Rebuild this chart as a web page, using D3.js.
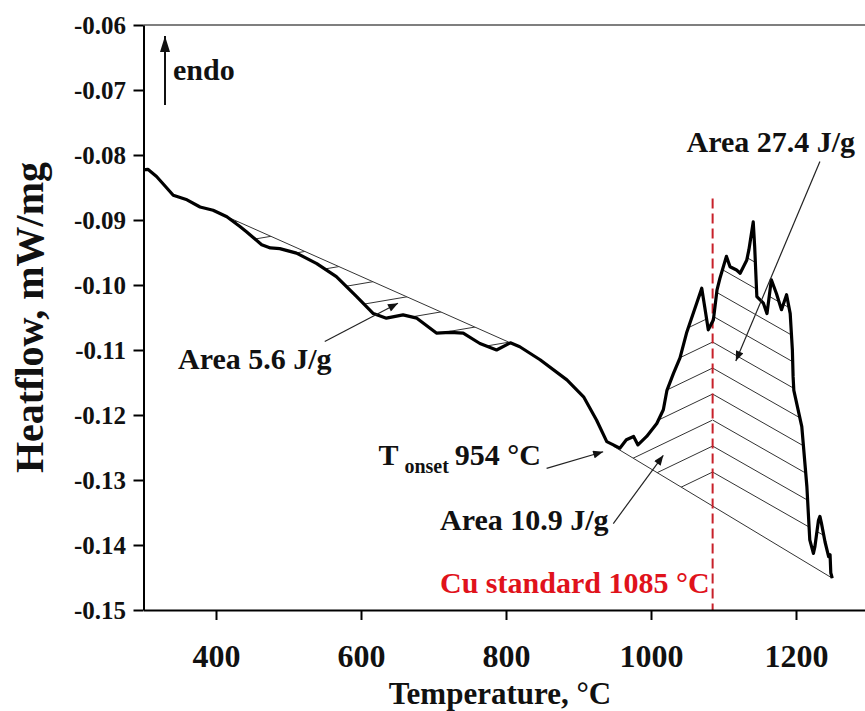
<!DOCTYPE html>
<html lang="en">
<head>
<meta charset="UTF-8">
<title>DSC Heatflow</title>
<style>
    body { margin: 0; padding: 0; background: #fff; }
    svg text { font-family: "Liberation Serif", "Times New Roman", serif; font-weight: bold; }
</style>
</head>
<body>
<svg id="chart" width="865" height="711"></svg>
<script src="https://cdnjs.cloudflare.com/ajax/libs/d3/7.9.0/d3.min.js"></script>
<script>
    // DSC trace
    const temperature = [300, 306, 318, 330, 341, 360, 378, 396, 415, 433, 442, 463, 475, 488, 511, 539, 566, 594, 617, 635,
        658, 677, 704, 723, 741, 764, 787, 806, 819, 833, 847, 884, 907, 925, 939, 948, 957, 966, 976, 982,
        994, 1008, 1017, 1022, 1031, 1040, 1049, 1063, 1070, 1074, 1079, 1086, 1091, 1095, 1104, 1109, 1118, 1123, 1132, 1135,
        1141, 1143, 1146, 1155, 1160, 1166, 1173, 1180, 1187, 1192, 1195, 1196, 1197, 1208, 1215, 1219, 1224, 1226, 1231, 1233,
        1235, 1240, 1245, 1247, 1248, 1250];
    const heatflow = [-0.0823, -0.0822, -0.0833, -0.0848, -0.0862, -0.0869, -0.0880, -0.0885, -0.0895, -0.0910, -0.0918, -0.0938, -0.0943, -0.0944, -0.0951, -0.0967, -0.0987, -0.1018, -0.1044, -0.1051,
        -0.1046, -0.1051, -0.1074, -0.1073, -0.1074, -0.1090, -0.1100, -0.1089, -0.1095, -0.1105, -0.1115, -0.1146, -0.1172, -0.1208, -0.1241, -0.1246, -0.1251, -0.1238, -0.1233, -0.1246,
        -0.1233, -0.1213, -0.1192, -0.1162, -0.1136, -0.1112, -0.1074, -0.1028, -0.1005, -0.1033, -0.1069, -0.1054, -0.1008, -0.0990, -0.0956, -0.0972, -0.0977, -0.0982, -0.0962, -0.0946,
        -0.0903, -0.0941, -0.1018, -0.1028, -0.1044, -0.0992, -0.1013, -0.1038, -0.1015, -0.1044, -0.1100, -0.1141, -0.1162, -0.1218, -0.1310, -0.1392, -0.1413, -0.1403, -0.1362, -0.1356,
        -0.1366, -0.1395, -0.1418, -0.1415, -0.1443, -0.1451];

    // integration baselines (temperature, heatflow at both ends)
    const baseline1T = [415, 806];
    const baseline1V = [-0.0895, -0.1089];
    const baseline2T = [948, 1250];
    const baseline2V = [-0.1248, -0.1451];
    const cuStandardT = 1085;
    const cuLineTopV = -0.0867;

    const xTicks = [400, 600, 800, 1000, 1200];
    const xMinorTicks = [300, 500, 700, 900, 1100, 1300];
    const yTicks = [-0.06, -0.07, -0.08, -0.09, -0.10, -0.11, -0.12, -0.13, -0.14, -0.15];
    const yMinorTicks = [-0.065, -0.075, -0.085, -0.095, -0.105, -0.115, -0.125, -0.135, -0.145];

    const labels = {
        area1: 'Area 5.6 J/g',
        area2: 'Area 10.9 J/g',
        area3: 'Area 27.4 J/g',
        onsetValue: '954 °C',
        cu: 'Cu standard 1085 °C',
        endo: 'endo',
        xTitle: 'Temperature, °C',
        yTitle: 'Heatflow, mW/mg'
    };

    const margin = { top: 25, left: 143.5 };
    const plotW = 725, plotH = 585;

    const svg = d3.select('#chart');

    const x = d3.scaleLinear().domain([300, 1300]).range([margin.left, margin.left + plotW]);
    const y = d3.scaleLinear().domain([-0.15, -0.06]).range([margin.top + plotH, margin.top]);

    const data = temperature.map((t, i) => [t, heatflow[i]]);
    const baseAt = (bT, bV, t) => bV[0] + (bV[1] - bV[0]) * (t - bT[0]) / (bT[1] - bT[0]);
    const curveAt = t => {
        for (let i = 1; i < data.length; i++) {
            if (data[i][0] >= t) {
                const a = data[i - 1], b = data[i];
                return a[1] + (b[1] - a[1]) * (t - a[0]) / (b[0] - a[0]);
            }
        }
        return data[data.length - 1][1];
    };

    const defs = svg.append('defs');
    defs.append('marker')
        .attr('id', 'head')
        .attr('viewBox', '0 0 10 8')
        .attr('refX', 10).attr('refY', 4)
        .attr('markerUnits', 'userSpaceOnUse')
        .attr('markerWidth', 11).attr('markerHeight', 8)
        .attr('orient', 'auto')
        .append('path').attr('d', 'M0,0 L10,4 L0,8 z').attr('fill', '#111');
    defs.append('marker')
        .attr('id', 'bighead')
        .attr('viewBox', '0 0 16 10')
        .attr('refX', 16).attr('refY', 5)
        .attr('markerUnits', 'userSpaceOnUse')
        .attr('markerWidth', 16).attr('markerHeight', 10)
        .attr('orient', 'auto')
        .append('path').attr('d', 'M0,0 L16,5 L0,10 z').attr('fill', '#111');

    function addClip(id, pts) {
        defs.append('clipPath').attr('id', id)
            .append('path')
            .attr('d', 'M' + pts.map(p => x(p[0]) + ',' + y(p[1])).join('L') + 'Z');
    }

    // clip regions for hatching
    const seg = (t0, t1) => data.filter(d => d[0] > t0 && d[0] < t1);
    addClip('clipA1', [[baseline1T[0], baseline1V[0]], ...seg(baseline1T[0], baseline1T[1]), [baseline1T[1], baseline1V[1]]]);
    const cuBase = baseAt(baseline2T, baseline2V, cuStandardT);
    addClip('clipA2', [[baseline2T[0], baseline2V[0]], ...seg(baseline2T[0], cuStandardT),
        [cuStandardT, curveAt(cuStandardT)], [cuStandardT, cuBase]]);
    addClip('clipA3', [[cuStandardT, cuBase], [cuStandardT, curveAt(cuStandardT)], ...seg(cuStandardT, baseline2T[1]),
        [baseline2T[1], baseline2V[1]]]);

    const hatch = svg.append('g').attr('stroke', '#333').attr('stroke-width', 1).attr('fill', 'none');

    // area 5.6 hatch: shallow lines crossing the baseline
    const b1x0 = x(baseline1T[0]), b1x1 = x(baseline1T[1]);
    const b1y0 = y(baseline1V[0]), b1y1 = y(baseline1V[1]);
    const g1 = hatch.append('g').attr('clip-path', 'url(#clipA1)');
    for (let cx = b1x0 + 10; cx < b1x1; cx += 34) {
        const cy = b1y0 + (b1y1 - b1y0) * (cx - b1x0) / (b1x1 - b1x0);
        g1.append('line')
            .attr('x1', cx - 150).attr('y1', cy + 0.17 * 150)
            .attr('x2', cx + 150).attr('y2', cy - 0.17 * 150);
    }

    // chevron hatch either side of the Cu line
    const ax = x(cuStandardT), ayBase = y(cuBase);
    const g2 = hatch.append('g').attr('clip-path', 'url(#clipA2)');
    const g3 = hatch.append('g').attr('clip-path', 'url(#clipA3)');
    for (let k = 0; k < 10; k++) {
        const ay = ayBase - 34 - 26 * k;
        g2.append('line').attr('x1', ax).attr('y1', ay).attr('x2', ax - 250).attr('y2', ay + 0.48 * 250);
        g3.append('line').attr('x1', ax).attr('y1', ay).attr('x2', ax + 250).attr('y2', ay + 0.57 * 250);
    }

    // baselines
    svg.append('line')
        .attr('x1', b1x0).attr('y1', b1y0).attr('x2', b1x1).attr('y2', b1y1)
        .attr('stroke', '#333').attr('stroke-width', 1);
    svg.append('line')
        .attr('x1', x(baseline2T[0])).attr('y1', y(baseline2V[0]))
        .attr('x2', x(baseline2T[1])).attr('y2', y(baseline2V[1]))
        .attr('stroke', '#333').attr('stroke-width', 1);

    // Cu standard dashed line
    svg.append('line')
        .attr('x1', x(cuStandardT)).attr('x2', x(cuStandardT))
        .attr('y1', y(cuLineTopV)).attr('y2', y(-0.15))
        .attr('stroke', '#c8202a').attr('stroke-width', 2)
        .attr('stroke-dasharray', '10,5');

    // DSC curve
    svg.append('path')
        .datum(data)
        .attr('fill', 'none')
        .attr('stroke', '#000')
        .attr('stroke-width', 3.2)
        .attr('stroke-linejoin', 'round')
        .attr('d', d3.line().x(d => x(d[0])).y(d => y(d[1])));

    // frame top line
    svg.append('line')
        .attr('x1', margin.left).attr('x2', margin.left + plotW)
        .attr('y1', margin.top).attr('y2', margin.top)
        .attr('stroke', '#555').attr('stroke-width', 1.5);

    // axes
    const xAxis = svg.append('g').attr('transform', `translate(0,${margin.top + plotH})`);
    xAxis.call(d3.axisBottom(x).tickValues(xMinorTicks).tickSize(5).tickFormat('').tickSizeOuter(0));
    xAxis.call(d3.axisBottom(x).tickValues(xTicks).tickSize(10).tickPadding(24).tickFormat(d3.format('d')).tickSizeOuter(0));
    const yAxis = svg.append('g').attr('transform', `translate(${margin.left},0)`);
    yAxis.call(d3.axisLeft(y).tickValues(yMinorTicks).tickSize(6).tickFormat('').tickSizeOuter(0));
    yAxis.call(d3.axisLeft(y).tickValues(yTicks).tickSize(10).tickPadding(7.5).tickFormat(d3.format('.2f')).tickSizeOuter(0));

    svg.selectAll('.domain').attr('stroke', '#000').attr('stroke-width', 2);
    svg.selectAll('.tick line').attr('stroke', '#000').attr('stroke-width', 2);
    xAxis.selectAll('.tick text').attr('font-size', 32).attr('fill', '#111');
    yAxis.selectAll('.tick text').attr('font-size', 25).attr('fill', '#111')
        .text(d => d3.format('.2f')(d).replace('−', '-'));

    // axis titles
    svg.append('text')
        .attr('x', margin.left + plotW / 2 - 6).attr('y', 704)
        .attr('text-anchor', 'middle').attr('font-size', 31).attr('fill', '#111')
        .text(labels.xTitle);
    svg.append('text')
        .attr('transform', `translate(43,${margin.top + plotH / 2}) rotate(-90)`)
        .attr('text-anchor', 'middle').attr('font-size', 40).attr('fill', '#111')
        .text(labels.yTitle);

    // endo arrow
    svg.append('line')
        .attr('x1', 165).attr('y1', 105).attr('x2', 165).attr('y2', 36)
        .attr('stroke', '#111').attr('stroke-width', 2).attr('marker-end', 'url(#bighead)');
    svg.append('text').attr('x', 173).attr('y', 80).attr('font-size', 30).attr('fill', '#111').text(labels.endo);

    // annotations with arrows (data coordinates)
    function arrow(t0, v0, t1, v1) {
        svg.append('line')
            .attr('x1', x(t0)).attr('y1', y(v0)).attr('x2', x(t1)).attr('y2', y(v1))
            .attr('stroke', '#222').attr('stroke-width', 1.2).attr('marker-end', 'url(#head)');
    }
    function note(t, v, str, color) {
        return svg.append('text').attr('x', x(t)).attr('y', y(v))
            .attr('font-size', 30).attr('fill', color || '#111').text(str);
    }

    note(347.6, -0.1129, labels.area1);
    arrow(550, -0.1087, 651, -0.1028);

    note(1049, -0.0795, labels.area3);
    arrow(1233, -0.0810, 1117, -0.1117);

    const onset = note(624, -0.1277, 'T');
    onset.append('tspan').attr('font-size', 20).attr('dy', 8).attr('dx', 6).text('onset');
    onset.append('tspan').attr('dy', -8).attr('dx', 6).text(labels.onsetValue);
    arrow(856, -0.1282, 934, -0.12565);

    note(709, -0.1377, labels.area2);
    arrow(948, -0.1367, 1017, -0.1262);

    note(709, -0.14743, labels.cu, '#e0121b');
</script>
</body>
</html>
